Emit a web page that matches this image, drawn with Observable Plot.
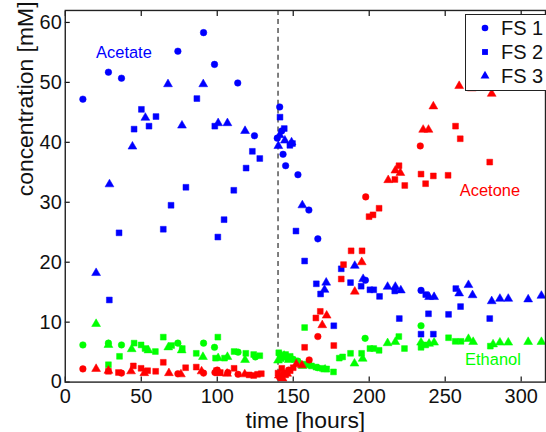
<!DOCTYPE html>
<html><head><meta charset="utf-8">
<script src="https://cdn.jsdelivr.net/npm/d3@7"></script>
<script src="https://cdn.jsdelivr.net/npm/@observablehq/plot@0.6"></script>
<style>
body{margin:0;background:#fff;}
#wrap{position:relative;width:546px;height:432px;overflow:hidden;font-family:"Liberation Sans",Arial,sans-serif;}
#legend{position:absolute;left:465px;top:14px;width:100px;height:77px;background:#fff;border:1.3px solid #222;box-sizing:border-box;}
</style></head><body><div id="wrap"></div>
<script>
// ---- data (time [hours], concentration [mM]) ----
const xTicks = [0, 50, 100, 150, 200, 250, 300];
const yTicks = [0, 10, 20, 30, 40, 50, 60];
const compounds = ["Acetate", "Acetone", "Ethanol"];
const compoundColors = ["#0000ff", "#ff0000", "#00ff00"];
const fsNames = ["FS 1", "FS 2", "FS 3"];
const fsSymbols = ["circle", "square", "triangle"];
const switchTime = [140];

const acetateFS1 = [[11.6,47.2],[28.4,51.7],[37,50.7],[74.1,55.2],[91,58.3],[98.2,53.0],[113.5,49.9],[124.5,41.1],[139.5,40.7],[141.1,45.9],[142.4,41.9],[143.3,38.0],[145,36.1],[153.1,34.6],[160.3,28.7],[166.2,23.9],[197.5,17.0],[234.1,15.3]];
const acetateFS2 = [[29,13.7],[35.4,24.9],[45.3,42.2],[50.1,45.5],[55.1,42.7],[59.7,44.3],[64.5,25.5],[69.6,29.5],[79.4,32.5],[86.6,47.3],[98.4,42.7],[100.4,24.2],[104.5,27.1],[110.9,32.0],[119,35.7],[123.1,38.5],[128,37.3],[141.3,44.2],[144.1,42.3],[147.8,39.5],[149.5,39.8],[151.8,25.2],[157.5,20.2],[165.2,16.4],[168,14.7],[176.7,9.4],[181.6,18.9],[187.7,16.6],[194.7,16.0],[200.5,15.4],[203,15.4],[206.8,14.3],[216.8,15.2],[219.8,10.6],[234.1,8.0],[237.2,14.6],[239,11.4],[242.2,8.0],[252.2,11.3],[257,15.6],[260.1,12.6],[279.3,10.6]];
const acetateFS3 = [[20.3,18.2],[29.1,33.0],[44.2,39.3],[52.7,44.1],[67.6,49.7],[76.8,42.8],[90.8,49.7],[100.6,43.2],[106.7,43.2],[118.3,41.9],[140.2,39.4],[141.1,41.2],[144.5,40.3],[148.9,40.0],[156,29.5],[170.6,15.4],[171.7,16.6],[190.5,19.4],[196,17.2],[212.1,15.9],[217.2,15.9],[220.8,15.3],[239.4,14.2],[242.7,14.2],[259.2,14.8],[265.3,16.2],[268,14.5],[280.6,13.5],[286,13.9],[291.5,13.9],[304.6,13.8],[313.3,14.4]];

const ethanolFS1 = [[11.6,6.2],[28.4,6.5],[37,6.2],[74.1,6.5],[91,6.5],[98.2,5.8],[113.7,5.0],[125.1,4.2],[141,4.7],[143,4.2],[146,4.0],[150,3.8],[153,3.5],[160.5,2.9],[166,2.4],[197.3,7.3],[234.1,9.4]];
const ethanolFS2 = [[28.4,2.9],[35.7,4.3],[45.3,6.5],[49.9,6.2],[52.5,5.6],[59.3,5.1],[64.5,7.5],[70,6.1],[77,5.6],[86.2,4.8],[98.9,4.0],[100.4,7.5],[104.8,4.0],[111.1,5.1],[118.8,4.8],[124,4.6],[128,4.4],[140.5,4.9],[142,3.9],[145,4.6],[148,4.3],[157.5,9.1],[158.6,3.0],[162,2.7],[165,2.5],[169,2.3],[172,2.2],[176.5,1.7],[180.3,4.0],[182.5,4.2],[187.7,4.8],[195,4.8],[200.5,5.6],[203,5.6],[206.5,5.3],[219.5,7.6],[223.2,5.6],[234.1,5.8],[237.2,6.2],[252.2,7.4],[256.6,6.8],[260.4,6.8],[279.7,6.0]];
const ethanolFS3 = [[20.3,9.7],[28.4,6.2],[43.7,5.5],[54.7,5.3],[67.8,5.8],[76.6,5.3],[90.6,4.2],[100.6,4.0],[106.7,4.2],[118.3,3.7],[140,3.6],[144,4.4],[147,3.7],[156.3,2.7],[171,2.1],[190.3,3.1],[195.7,3.9],[212.1,6.5],[217.2,6.7],[234.1,6.6],[239.4,6.4],[242.7,6.6],[265.3,7.2],[268.4,6.7],[281.5,6.3],[286,6.6],[291.5,6.6],[304.6,6.7],[313.3,6.7]];

const acetoneFS1 = [[11.6,2.2],[37,1.5],[74.1,1.4],[91,1.5],[98.5,1.6],[100,2.0],[107,1.6],[113.7,1.3],[141,0.8],[144,1.5],[147,2.0],[160.5,3.7],[166.2,7.6],[197.7,30.9],[233.6,39.4]];
const acetoneFS2 = [[28.4,1.8],[35,1.6],[44.8,2.7],[49.9,2.3],[54.2,1.9],[59.5,1.8],[64.5,3.3],[79.2,2.4],[86.2,2.5],[99.5,1.9],[102,1.6],[111.1,2.3],[121,1.2],[124,1.1],[126.5,1.3],[129,1.4],[140,1.5],[142.5,2.3],[145,1.2],[148,1.9],[150,2.4],[157.5,5.8],[164.9,10.7],[167.8,11.8],[176.7,6.1],[181.6,17.2],[183.1,19.6],[188.1,21.9],[195.3,21.9],[199.9,27.6],[202.5,27.9],[206.5,29.0],[216.9,33.8],[219.6,36.1],[223.4,32.8],[234.1,34.7],[237.1,33.1],[242.2,34.4],[251.9,34.5],[256.8,42.7],[259.9,40.6],[279.3,36.7]];
const acetoneFS3 = [[20.3,2.2],[28.4,1.9],[43.3,1.8],[52,1.5],[68.2,1.5],[76.1,1.3],[89.7,1.8],[101,1.5],[106.5,1.4],[118.1,1.3],[140.5,1.1],[143,0.6],[146,1.4],[152,3.0],[155.7,2.8],[169.1,9.5],[172,11.1],[190.5,15.1],[195.1,20.0],[212.5,33.7],[217.2,35.3],[220.5,34.9],[235.5,42.1],[239,42.1],[242.2,46.0],[259.2,49.4],[267.5,49.0],[280.6,48.1]];

// in-plot labels: [time, concentration] where each label starts
const labelNames = ["Acetate", "Acetone", "Ethanol"];
const labelAt = [[20.3,55.0],[259.6,31.9],[263.1,3.8]];

// ---- build tables ----
const series = [
  ["Acetate","FS 1",acetateFS1],["Acetate","FS 2",acetateFS2],["Acetate","FS 3",acetateFS3],
  ["Ethanol","FS 1",ethanolFS1],["Ethanol","FS 2",ethanolFS2],["Ethanol","FS 3",ethanolFS3],
  ["Acetone","FS 1",acetoneFS1],["Acetone","FS 2",acetoneFS2],["Acetone","FS 3",acetoneFS3]
];
const rows = series.flatMap(([compound, fs, pts]) => pts.map(([t, v]) => ({t, v, compound, fs})));
const labels = labelNames.map((name, i) => ({name, t: labelAt[i][0], v: labelAt[i][1]}));

const FONT = "Liberation Sans, Arial, Helvetica, sans-serif";
const chart = Plot.plot({
  width: 548, height: 432,
  marginLeft: 65, marginRight: 1, marginTop: 10, marginBottom: 49,
  style: {fontFamily: FONT, fontSize: "20px", color: "#111", background: "transparent", overflow: "visible"},
  x: {domain: [0, 316]},
  y: {domain: [0, 62]},
  symbol: {domain: fsNames, range: fsSymbols},
  color: {domain: compounds, range: compoundColors},
  marks: [
    Plot.ruleX(switchTime, {stroke: "#3a3a3a", strokeDasharray: "5,4", strokeWidth: 1.3}),
    Plot.dot(rows, {x: "t", y: "v", symbol: "fs", fill: "compound", stroke: "compound", strokeWidth: 0.5, r: 3.3}),
    Plot.text(labels, {x: "t", y: "v", text: "name", fill: "name", textAnchor: "start", fontSize: 16.5}),
    Plot.axisX({ticks: xTicks, tickSize: -5, tickPadding: 12, label: null, strokeWidth: 1.2}),
    Plot.axisX({anchor: "top", ticks: xTicks, tickSize: -5, tickFormat: () => "", label: null, strokeWidth: 1.2}),
    Plot.axisY({ticks: yTicks, tickSize: -5, tickPadding: 8.5, label: null, strokeWidth: 1.2}),
    Plot.frame({stroke: "#222", strokeWidth: 1.4}),
    Plot.text(["time [hours]"], {frameAnchor: "bottom", dy: 46, lineAnchor: "bottom", fontSize: 23, fill: "#111"}),
    Plot.text(["concentration [mM]"], {frameAnchor: "left", dx: -40, rotate: -90, fontSize: 23, fill: "#111"})
  ]
});

const wrap = document.getElementById("wrap");
wrap.appendChild(chart);

// ---- legend (inside the axes, top right) ----
const legend = document.createElement("div");
legend.id = "legend";
wrap.appendChild(legend);
const lsvg = d3.select(legend).append("svg").attr("width", 100).attr("height", 77);
const symMap = {circle: d3.symbolCircle, square: d3.symbolSquare, triangle: d3.symbolTriangle};
fsNames.forEach((name, i) => {
  const cy = 13 + i * 24;
  lsvg.append("path")
    .attr("transform", `translate(19,${cy})`)
    .attr("d", d3.symbol(symMap[fsSymbols[i]], Math.PI * 3.3 * 3.3)())
    .attr("fill", compoundColors[0]);
  lsvg.append("text")
    .attr("x", 35).attr("y", cy).attr("dy", "0.35em")
    .attr("font-family", FONT).attr("font-size", 20).attr("fill", "#111")
    .text(name);
});
</script>
</body></html>
